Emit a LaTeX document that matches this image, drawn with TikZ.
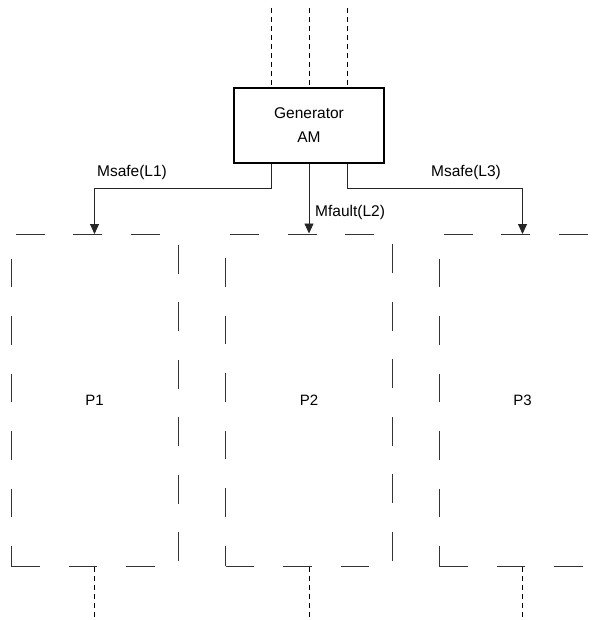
\documentclass[tikz,border=0pt]{standalone}
\usepackage{fontspec}
\setmainfont{Liberation Sans}
\usepackage{tikz}
\usetikzlibrary{arrows.meta,positioning}
\tikzset{
  part/.style={draw=black!80, line width=1pt, dash pattern=on 28.75pt off 28.75pt,
    minimum width=167pt, minimum height=332pt, inner sep=0pt, font=\fontsize{15}{17}\selectfont},
  genbox/.style={draw, line width=2.5pt, minimum width=150pt, minimum height=75pt,
    align=center, font=\fontsize{15.5}{24}\selectfont},
  msg/.style={-{Triangle[length=10pt,width=9pt]}, line width=0.9pt, draw=black!85},
  feed/.style={line width=0.9pt, dash pattern=on 5pt off 4pt},
  lbl/.style={font=\fontsize{15.5}{17}\selectfont, inner sep=0pt}
}

\begin{document}
\begin{tikzpicture}[x=1pt,y=-1pt]
\useasboundingbox (0,0) rectangle (597,620);
\clip (0,0) rectangle (597,620);
%\draw[help lines] (0,0) grid[step=50] (597,620);
\node[genbox] (gen) at (309,125.5) {Generator\\AM};
\node[part] (p1) at (94.5,400.5) {P1};
\node[part] (p2) at (309,400) {P2};
\node[part] (p3) at (522.5,400.5) {P3};
% inputs from above
\coordinate (in1) at (271,8);
\coordinate (in2) at (309,8);
\coordinate (in3) at (347,8);
\draw[feed] (in1) -- (in1 |- gen.north);
\draw[feed] (in2) -- (in2 |- gen.north);
\draw[feed] (in3) -- (in3 |- gen.north);
% messages to the parts
\draw[msg] ([xshift=-38pt]gen.south) -- ++(0,24) -| (p1.north);
\draw[msg] (gen.south) -- (p2.north);
\draw[msg] ([xshift=38pt]gen.south) -- ++(0,24) -| (p3.north);
\node[lbl] (l1) at (132,172) {Msafe(L1)};
\node[lbl, anchor=west] (l2) at (315,212) {Mfault(L2)};
\node[lbl] (l3) at (466,172) {Msafe(L3)};
% outputs below
\coordinate (out1) at (94.5,620);
\coordinate (out2) at (309,620);
\coordinate (out3) at (522.5,620);
\draw[feed] (p1.south) -- (out1);
\draw[feed] (p2.south) -- (out2);
\draw[feed] (p3.south) -- (out3);
\end{tikzpicture}
\end{document}
